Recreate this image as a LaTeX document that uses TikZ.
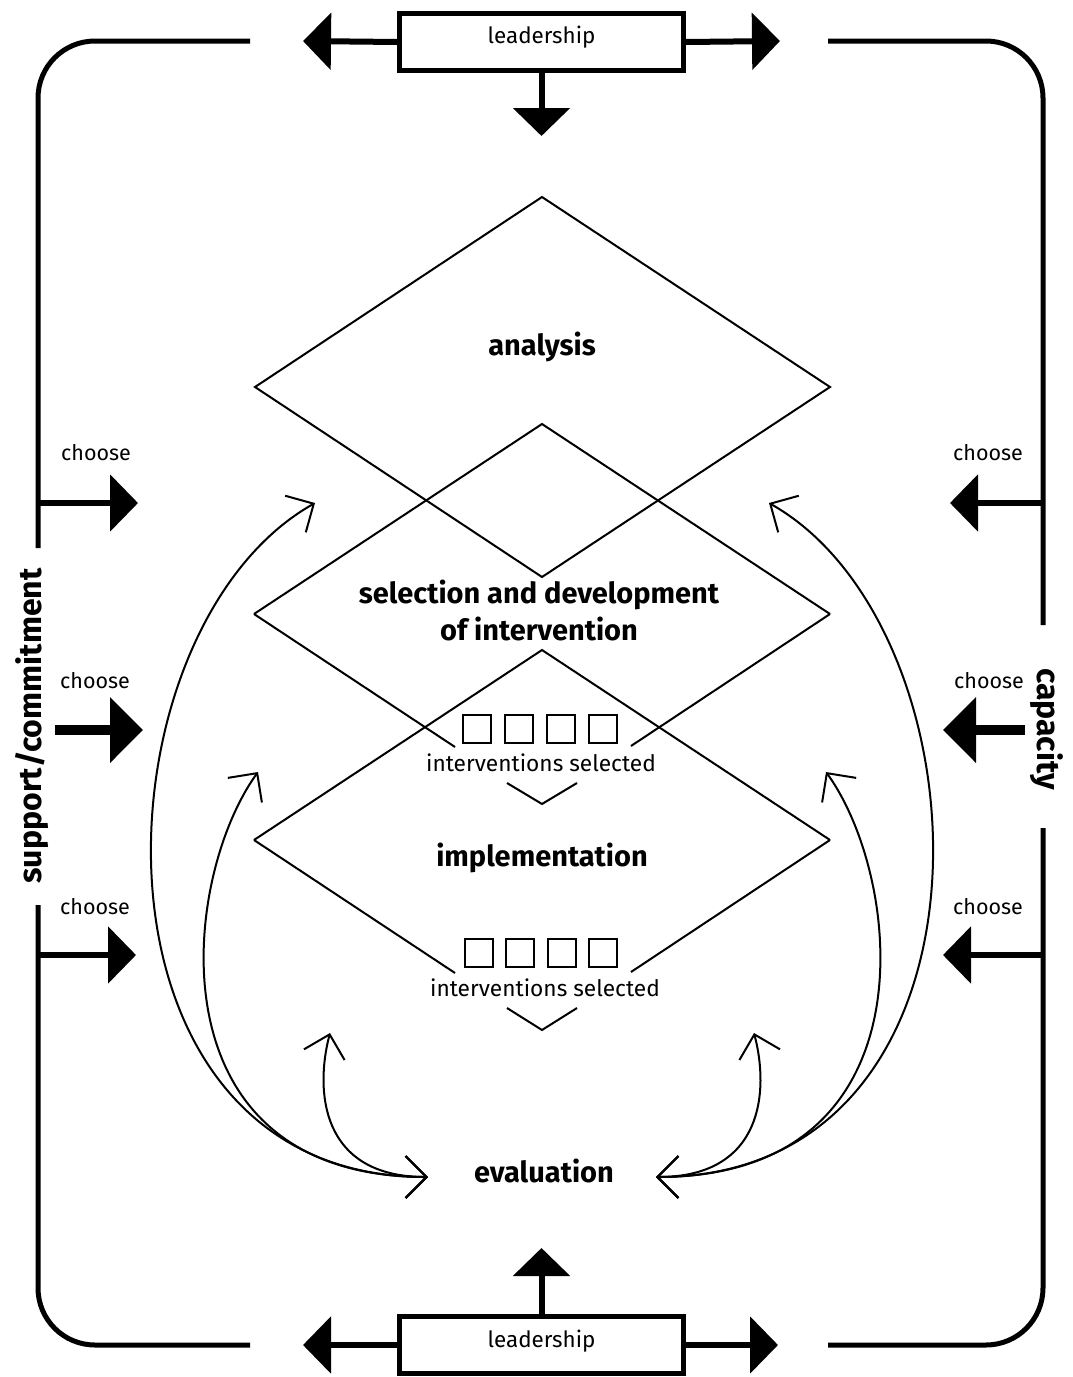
\documentclass[tikz,border=0pt]{standalone}
\usepackage{fontspec}
\setmainfont{Fira Sans}
\usetikzlibrary{positioning}
\usetikzlibrary{arrows.meta}
\pgfdeclarelayer{nodelayer}
\pgfdeclarelayer{edgelayer}
\pgfsetlayers{nodelayer,edgelayer,main}
\tikzset{
    none/.style = {inner sep=0pt},
    word/.style = {inner sep=0pt, font=\fontsize{21.5}{25}\selectfont},
    small/.style = {inner sep=0pt, font=\fontsize{22.7}{25}\selectfont},
    title/.style = {inner sep=0pt, align=center, font=\fontsize{29}{37}\selectfont\bfseries},
    side/.style = {inner sep=0pt, font=\fontsize{32}{37}\selectfont\bfseries},
    box/.style = {draw, line width=5pt, minimum width=284pt, minimum height=57pt, inner sep=0pt},
    boxtext/.style = {inner sep=0pt, font=\fontsize{22.4}{26}\selectfont},
    pick/.style = {draw, line width=2pt, minimum size=28pt, inner sep=0pt},
    frame/.style = {line width=5pt, rounded corners=57pt},
    fat/.style = {-{Triangle[length=28pt 0 0, width=56pt 0 0]}, line width=6pt},
    fatter/.style = {-{Triangle[length=33pt 0 0, width=64pt 0 0]}, line width=10pt},
    thin/.style = {line width=2pt},
    feedback/.style = {{Straight Barb[length=21pt 0 0, width=42pt 0 0]}-{Straight Barb[length=21pt 0 0, width=42pt 0 0]}, line width=2pt}
}

\begin{document}
\begin{tikzpicture}[x=1pt, y=-1pt]
    \useasboundingbox (0,0) rectangle (1072,1377);
    \begin{pgfonlayer}{nodelayer}
        % leadership boxes
        \node [box] (lead1) at (541.5,42) {};
        \node [box] (lead2) at (541.5,1345) {};
        \node [boxtext] (lead1t) at (541.5,37) {leadership};
        \node [boxtext] (lead2t) at (541.5,1341) {leadership};
        \coordinate (lead1w) at (303,41);
        \coordinate (lead1e) at (780,41);
        \coordinate (lead1s) at (541.5,136);
        \coordinate (lead2w) at (303,1345);
        \coordinate (lead2e) at (778,1345);
        \coordinate (lead2n) at (541.5,1248);
        % frame
        \coordinate (f0) at (250,41);
        \coordinate (f1) at (38,41);
        \coordinate (f2) at (38,548);
        \coordinate (f3) at (38,905);
        \coordinate (f4) at (38,1345);
        \coordinate (f5) at (250,1345);
        \coordinate (g0) at (828,41);
        \coordinate (g1) at (1043,41);
        \coordinate (g2) at (1043,625);
        \coordinate (g3) at (1043,828);
        \coordinate (g4) at (1043,1345);
        \coordinate (g5) at (828,1345);
        \node [side, rotate=90] (support) at (32,726) {support/commitment};
        \node [side, rotate=-90] (capacity) at (1047,729) {capacity};
        % choose arrows
        \coordinate (c1) at (38,503);
        \coordinate (c2) at (55,730);
        \coordinate (c3) at (38,955);
        \coordinate (c1t) at (138,503);
        \coordinate (c2t) at (143,730);
        \coordinate (c3t) at (136,955);
        \coordinate (d1) at (1043,503);
        \coordinate (d2) at (1025,730);
        \coordinate (d3) at (1043,955);
        \coordinate (d1t) at (950,503);
        \coordinate (d2t) at (943,730);
        \coordinate (d3t) at (943,955);
        \node [word] (ch1) at (96,453) {choose};
        \node [word] (ch2) at (95,681) {choose};
        \node [word] (ch3) at (95,907) {choose};
        \node [word] (ch4) at (988,453) {choose};
        \node [word] (ch5) at (989,681) {choose};
        \node [word] (ch6) at (988,907) {choose};
        % analysis
        \node [style=none] (0) at (542,197) {};
        \node [style=none] (1) at (830,387) {};
        \node [style=none] (2) at (542,577) {};
        \node [style=none] (3) at (255,387) {};
        \node [title] (analysis) at (542,347) {analysis};
        % selection and development
        \node [style=none] (4) at (542,424) {};
        \node [style=none] (5) at (830,614) {};
        \node [style=none] (6) at (254,614) {};
        \node [style=none] (7) at (455,747) {};
        \node [style=none] (8) at (631,746) {};
        \node [style=none] (9) at (507,783) {};
        \node [style=none] (10) at (542,804) {};
        \node [style=none] (11) at (577,783) {};
        \node [title] (select) at (539,610) {selection and development\\of intervention};
        \foreach \i/\x in {1/477,2/519,3/561,4/603}
            \node [pick] (s\i) at (\x,729) {};
        \node [small] (sel1) at (541,763) {interventions selected};
        % implementation
        \node [style=none] (12) at (542,650) {};
        \node [style=none] (13) at (830,840) {};
        \node [style=none] (14) at (254,840) {};
        \node [style=none] (15) at (455,973) {};
        \node [style=none] (16) at (631,972) {};
        \node [style=none] (17) at (507,1008) {};
        \node [style=none] (18) at (542,1030) {};
        \node [style=none] (19) at (577,1008) {};
        \node [title] (implement) at (542,858) {implementation};
        \foreach \i/\x in {1/479,2/520,3/562,4/603}
            \node [pick] (t\i) at (\x,953) {};
        \node [small] (sel2) at (545,988) {interventions selected};
        % evaluation
        \node [title] (evaluation) at (544,1171) {evaluation};
        \coordinate (evalL) at (428,1177);
        \coordinate (evalR) at (656,1177);
        \coordinate (a1) at (315,503);
        \coordinate (a2) at (258,772);
        \coordinate (a3) at (330,1033);
        \coordinate (b1) at (769,503);
        \coordinate (b2) at (826,772);
        \coordinate (b3) at (754,1033);
    \end{pgfonlayer}
    \begin{pgfonlayer}{edgelayer}
        \draw [fat] (lead1.west) to (lead1w);
        \draw [fat] (lead1.east) to (lead1e);
        \draw [fat] (lead1.south) to (lead1s);
        \draw [fat] (lead2.west) to (lead2w);
        \draw [fat] (lead2.east) to (lead2e);
        \draw [fat] (lead2.north) to (lead2n);
        \draw [frame] (f0) -- (f1) -- (f2);
        \draw [frame] (f3) -- (f4) -- (f5);
        \draw [frame] (g0) -- (g1) -- (g2);
        \draw [frame] (g3) -- (g4) -- (g5);
        \draw [fat] (c1) to (c1t);
        \draw [fatter] (c2) to (c2t);
        \draw [fat] (c3) to (c3t);
        \draw [fat] (d1) to (d1t);
        \draw [fatter] (d2) to (d2t);
        \draw [fat] (d3) to (d3t);
        \draw [thin] (0.center) to (1.center) to (2.center) to (3.center) -- cycle;
        \draw [thin] (6.center) to (4.center) to (5.center);
        \draw [thin] (6.center) to (7.center);
        \draw [thin] (5.center) to (8.center);
        \draw [thin] (9.center) to (10.center) to (11.center);
        \draw [thin] (14.center) to (12.center) to (13.center);
        \draw [thin] (14.center) to (15.center);
        \draw [thin] (13.center) to (16.center);
        \draw [thin] (17.center) to (18.center) to (19.center);
        \draw [feedback] (a1) .. controls (90,630) and (70,1177) .. (evalL);
        \draw [feedback] (a2) .. controls (180,880) and (150,1177) .. (evalL);
        \draw [feedback] (a3) .. controls (315,1090) and (320,1177) .. (evalL);
        \draw [feedback] (b1) .. controls (994,630) and (1014,1177) .. (evalR);
        \draw [feedback] (b2) .. controls (904,880) and (934,1177) .. (evalR);
        \draw [feedback] (b3) .. controls (769,1090) and (764,1177) .. (evalR);
    \end{pgfonlayer}
\end{tikzpicture}
\end{document}
